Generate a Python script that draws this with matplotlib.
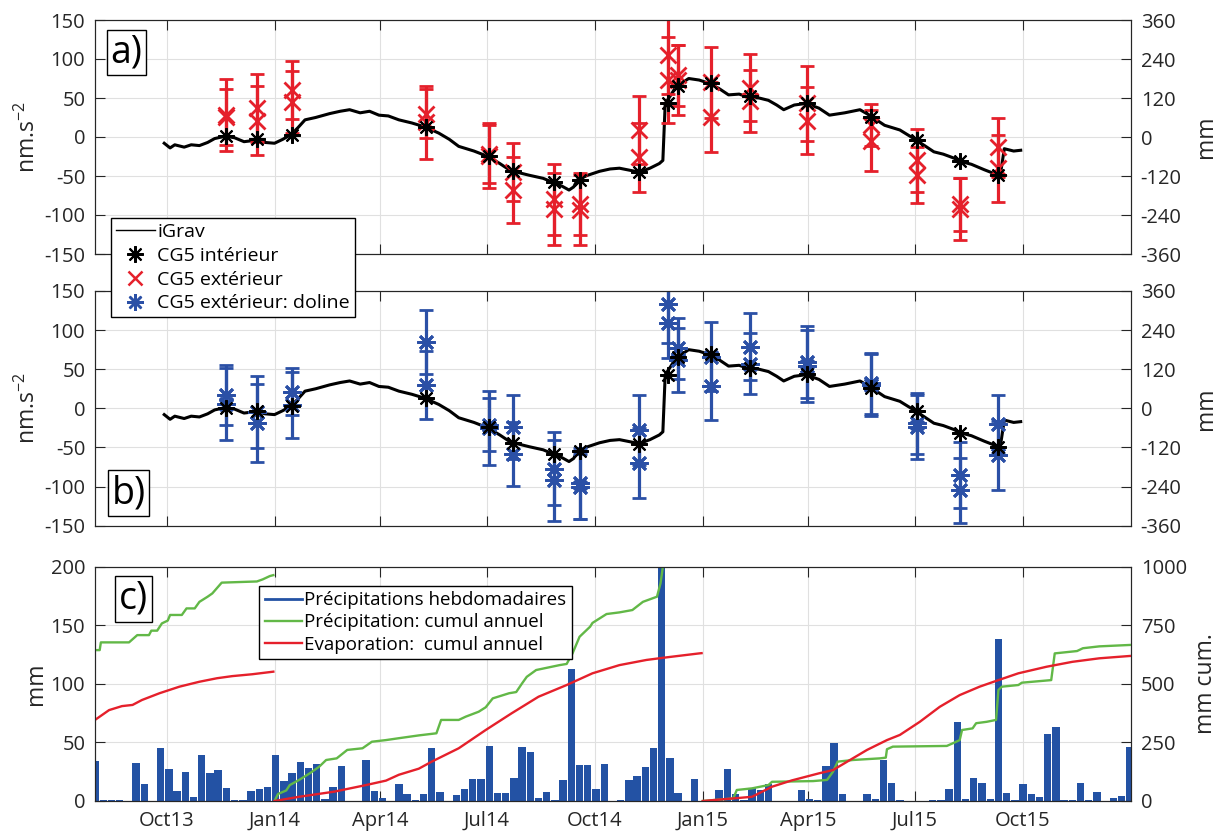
import matplotlib.pyplot as plt
import matplotlib.dates as mdates
from matplotlib.lines import Line2D
import pandas as pd

plt.rcParams['font.family'] = ['Open Sans', 'DejaVu Sans']
plt.rcParams['axes.unicode_minus'] = False
plt.rcParams['mathtext.default'] = 'regular'

RED = '#E5202B'
BLUE = '#2B50A6'
GREEN = '#62B847'
BAR = '#2352A4'
STAR = (8, 2, 0)

# --- iGrav continuous record (nm/s^2) ---
igrav_dates = ['2013-09-29', '2013-10-04', '2013-10-08', '2013-10-16', '2013-10-22', '2013-10-29',
               '2013-11-05', '2013-11-11', '2013-11-20', '2013-11-28', '2013-12-06', '2013-12-17',
               '2013-12-24', '2014-01-01', '2014-01-08', '2014-01-15', '2014-01-21', '2014-01-27',
               '2014-02-05', '2014-02-17', '2014-02-26', '2014-03-06', '2014-03-15', '2014-03-23',
               '2014-03-31', '2014-04-08', '2014-04-17', '2014-04-28', '2014-05-09', '2014-05-21',
               '2014-05-30', '2014-06-07', '2014-06-20', '2014-07-02', '2014-07-12', '2014-07-21',
               '2014-08-06', '2014-08-18', '2014-08-26', '2014-09-03', '2014-09-09', '2014-09-13',
               '2014-09-16', '2014-09-25', '2014-10-05', '2014-10-14', '2014-10-22', '2014-11-01',
               '2014-11-08', '2014-11-17', '2014-11-25', '2014-11-28', '2014-11-30', '2014-12-04',
               '2014-12-09', '2014-12-20', '2014-12-29', '2015-01-06', '2015-01-15', '2015-01-23',
               '2015-02-01', '2015-02-09', '2015-02-18', '2015-02-26', '2015-03-05', '2015-03-11',
               '2015-03-20', '2015-03-30', '2015-04-10', '2015-04-19', '2015-05-02', '2015-05-15',
               '2015-05-23', '2015-06-05', '2015-06-18', '2015-07-02', '2015-07-17', '2015-07-25',
               '2015-08-03', '2015-08-08', '2015-08-18', '2015-08-29', '2015-09-10', '2015-09-12',
               '2015-09-15', '2015-09-23', '2015-09-29']
igrav_vals = [-8, -14, -10, -13, -10, -11, -7, -2, 1, -1, -6, -4, -7, -8, -3, 3, 12, 22,
              25, 30, 33, 35, 31, 33, 28, 27, 22, 18, 13, 5, -3, -12, -18, -25, -34, -43,
              -49, -53, -58, -63, -68, -64, -55, -49, -44, -41, -40, -43, -45, -40, -34, -30,
              43, 52, 64, 75, 73, 69, 62, 54, 55, 51, 50, 47, 41, 35, 41, 43, 37, 28, 31, 35,
              28, 15, 9, -4, -19, -22, -27, -31, -35, -42, -49, -45, -15, -18, -17]

# --- CG5 surveys ---
survey_dates = ['2013-11-21', '2013-12-17', '2014-01-16', '2014-05-10', '2014-07-03', '2014-07-23',
                '2014-08-27', '2014-09-18', '2014-11-08', '2014-12-02', '2014-12-11', '2015-01-08',
                '2015-02-10', '2015-03-31', '2015-05-24', '2015-07-03', '2015-08-08', '2015-09-10']
cg5_int = [1, -3, 3, 13, -24, -44, -58, -55, -45, 43, 65, 69, 52, 44, 26, -4, -31, -49]

ext_val1 = [28, 37, 60, 19, -24, -45, -80, -94, 9, 105, 79, 70, 63, 43, 15, -30, -86, -13]
ext_err1 = [46, 44, 37, 47, 42, 37, 45, 45, 44, 50, 39, 46, 43, 48, 27, 40, 34, 38]
ext_val2 = [26, 21, 45, 30, -22, -68, -92, -86, -26, 73, 73, 26, 46, 21, -5, -49, -92, -40]
ext_err2 = [36, 44, 40, 31, 37, 42, 46, 40, 44, 55, 45, 45, 40, 43, 39, 36, 40, 43]

dol_val1 = [17, -5, 21, 85, -25, -24, -77, -100, -28, 134, 77, 66, 79, 59, 32, -19, -85, -20]
dol_err1 = [38, 46, 30, 41, 47, 41, 47, 42, 45, 50, 39, 44, 43, 46, 39, 39, 42, 37]
dol_val2 = [6, -19, 4, 30, -21, -58, -92, -96, -70, 109, 62, 28, 57, 54, 30, -24, -105, -60]
dol_err2 = [46, 50, 42, 43, 34, 41, 52, 45, 45, 45, 41, 43, 39, 46, 40, 41, 42, 44]

# --- weekly precipitation (mm), first week centred on 2013-08-01 ---
precip = [34, 0.5, 0.5, 0.5, 0, 32.7, 14.5, 0, 45.5, 27, 8.8, 25, 3.7, 39.3, 24.2, 26.5,
          10.8, 0.5, 0.5, 8.8, 10.2, 12.2, 39.3, 17.1, 23.6, 33.6, 27.9, 31.6, 1.5, 12.2,
          29.9, 0, 0, 35, 8.8, 2.5, 0, 14.2, 5.8, 1, 5.7, 45.5, 8, 0, 5.1, 10, 19, 18.5,
          46.9, 7.1, 7.1, 19.4, 46.4, 41.5, 2.8, 7.4, 1.1, 17.9, 112.4, 30.7, 30.4, 10,
          31.6, 0, 1, 17.9, 21.3, 29.3, 45.5, 210, 37, 7.1, 0, 19, 0, 0, 9.5, 27.6, 6.2,
          1, 10.8, 9.5, 14.2, 0, 0, 0, 9.5, 1.6, 1, 29.9, 49.8, 6.2, 0, 0, 6.2, 1.4, 35,
          15.7, 0.5, 0, 0, 0, 0.5, 1, 10, 67.1, 1.6, 19.4, 15.7, 1.6, 138.5, 7.1, 0.5,
          14.5, 5.7, 3.7, 57.2, 62.9, 1, 1, 15.1, 1, 8, 0, 2.8, 4.5, 46.4]

# --- annual cumulative precipitation and evaporation (mm) ---
pcum13_dates = ['2013-08-01', '2013-08-05', '2013-08-06', '2013-08-30', '2013-09-06', '2013-09-16',
                '2013-09-18', '2013-09-23', '2013-09-27', '2013-10-02', '2013-10-04', '2013-10-14',
                '2013-10-18', '2013-10-25', '2013-10-29', '2013-11-05', '2013-11-09', '2013-11-17',
                '2013-12-17', '2013-12-22', '2013-12-28', '2013-12-31']
pcum13 = [644, 644, 677, 677, 708, 708, 727, 727, 758, 770, 794, 794, 822, 822, 850, 872,
          886, 932, 937, 946, 960, 964]
pcum14_dates = ['2014-01-01', '2014-01-04', '2014-01-11', '2014-01-14', '2014-01-22', '2014-01-31',
                '2014-02-08', '2014-02-14', '2014-02-23', '2014-03-04', '2014-03-17', '2014-03-25',
                '2014-04-06', '2014-04-17', '2014-05-04', '2014-05-19', '2014-05-23', '2014-06-07',
                '2014-06-13', '2014-06-24', '2014-06-30', '2014-07-06', '2014-07-20', '2014-07-26',
                '2014-07-31', '2014-08-04', '2014-08-12', '2014-09-01', '2014-09-07', '2014-09-12',
                '2014-09-18', '2014-09-27', '2014-09-29', '2014-10-11', '2014-10-22', '2014-11-02',
                '2014-11-11', '2014-11-23', '2014-11-26', '2014-11-28', '2014-12-03', '2014-12-31']
pcum14 = [0, 30, 45, 68, 90, 118, 146, 175, 182, 218, 225, 253, 260, 268, 280, 289, 346,
          346, 360, 381, 400, 438, 460, 465, 502, 530, 559, 580, 585, 630, 701, 744, 760,
          798, 805, 815, 850, 872, 929, 1000, 1150, 1180]
pcum15_dates = ['2015-01-01', '2015-01-27', '2015-01-30', '2015-02-12', '2015-02-26', '2015-03-01',
                '2015-04-05', '2015-04-17', '2015-04-22', '2015-04-26', '2015-05-09', '2015-06-01',
                '2015-06-06', '2015-06-07', '2015-06-12', '2015-07-28', '2015-08-02', '2015-08-08',
                '2015-08-10', '2015-08-19', '2015-08-22', '2015-08-31', '2015-09-08', '2015-09-10',
                '2015-09-13', '2015-09-27', '2015-09-30', '2015-10-25', '2015-10-28', '2015-11-16',
                '2015-11-21', '2015-12-05', '2015-12-31']
pcum15 = [0, 11, 47, 54, 68, 82, 85, 90, 125, 168, 175, 182, 185, 221, 232, 235, 246, 260,
          303, 310, 332, 338, 346, 474, 488, 495, 505, 516, 630, 640, 652, 660, 666]

ecum13_dates = ['2013-08-01', '2013-08-05', '2013-08-13', '2013-08-24', '2013-09-02', '2013-09-10',
                '2013-09-25', '2013-10-12', '2013-10-29', '2013-11-13', '2013-11-26', '2013-12-13',
                '2013-12-31']
ecum13 = [346, 360, 388, 405, 410, 431, 460, 488, 509, 524, 533, 541, 552]
ecum14_dates = ['2014-01-01', '2014-01-22', '2014-02-21', '2014-03-20', '2014-04-06', '2014-04-17',
                '2014-05-04', '2014-05-15', '2014-06-07', '2014-06-30', '2014-07-22', '2014-08-14',
                '2014-09-07', '2014-09-29', '2014-10-22', '2014-11-14', '2014-12-01', '2014-12-29',
                '2014-12-31']
ecum14 = [0, 18, 40, 68, 87, 112, 138, 168, 225, 303, 374, 445, 495, 545, 580, 602, 613, 630, 631]
ecum15_dates = ['2015-01-01', '2015-01-27', '2015-02-12', '2015-03-01', '2015-03-18', '2015-04-10',
                '2015-04-22', '2015-05-21', '2015-06-07', '2015-06-18', '2015-07-05', '2015-07-22',
                '2015-08-08', '2015-08-25', '2015-09-10', '2015-09-27', '2015-10-21', '2015-11-12',
                '2015-12-05', '2015-12-31']
ecum15 = [0, 11, 18, 61, 88, 118, 132, 218, 260, 282, 338, 402, 452, 488, 516, 545, 573, 594,
          609, 619]

tick_dates = ['2013-10-01', '2014-01-01', '2014-04-01', '2014-07-01', '2014-10-01',
              '2015-01-01', '2015-04-01', '2015-07-01', '2015-10-01']

d = pd.to_datetime
xmin, xmax = d('2013-08-01'), d('2016-01-01')
sdates = d(survey_dates)
week_dates = pd.date_range('2013-08-01', periods=len(precip), freq='7D')

fig = plt.figure(figsize=(12.23, 8.33), dpi=100)


def frac(top, bottom):
    return [95 / 1223, 1 - bottom / 833, 1036 / 1223, (bottom - top) / 833]


ax_a = fig.add_axes(frac(20, 254))
ax_b = fig.add_axes(frac(291, 525.7))
ax_c = fig.add_axes(frac(566.7, 801))

TXT = '#262626'
TICK_FS = 14.5
LAB_FS = 16.5


def style(ax):
    ax.set_xlim(xmin, xmax)
    ax.set_xticks(d(tick_dates))
    ax.xaxis.set_major_formatter(mdates.DateFormatter('%b%y'))
    ax.grid(True, color='#E0E0E0', lw=0.8)
    ax.set_axisbelow(True)
    ax.tick_params(direction='in', top=True, length=7, width=0.8, labelsize=TICK_FS,
                   colors=TXT, pad=7)
    for s in ax.spines.values():
        s.set_color(TXT)
        s.set_linewidth(0.8)


def right_axis(ax, lim, ticks, label, xlab):
    ax2 = ax.twinx()
    ax2.set_ylim(*lim)
    ax2.set_yticks(ticks)
    ax2.tick_params(direction='in', length=7, width=0.8, labelsize=TICK_FS, colors=TXT, pad=7)
    for s in ax2.spines.values():
        s.set_color(TXT)
        s.set_linewidth(0.8)
    ax2.set_ylabel(label, fontsize=LAB_FS, color=TXT)
    ax2.yaxis.set_label_coords(xlab, 0.5)
    return ax2


def panel_label(ax, s, x, y):
    ax.text(x, y, s, transform=ax.transAxes, fontsize=27, ha='center', va='center',
            color='black', zorder=10,
            bbox=dict(boxstyle='square,pad=0.1', fc='white', ec='black', lw=1))


for ax, vals1, err1, vals2, err2, col, mk, ms in [
        (ax_a, ext_val1, ext_err1, ext_val2, ext_err2, RED, 'x', 11),
        (ax_b, dol_val1, dol_err1, dol_val2, dol_err2, BLUE, STAR, 13)]:
    style(ax)
    ax.plot(d(igrav_dates), igrav_vals, color='black', lw=2.2, zorder=2)
    for v, e in [(vals1, err1), (vals2, err2)]:
        ax.errorbar(sdates, v, yerr=e, ls='none', marker=mk, color=col, ms=ms, mew=2,
                    elinewidth=2.3, capsize=5, capthick=2, zorder=3)
    ax.plot(sdates, cg5_int, ls='none', marker=STAR, color='black', ms=12, mew=1.5, zorder=4)
    ax.set_ylim(-150, 150)
    ax.set_yticks(range(-150, 151, 50))
    ax.tick_params(labelbottom=False)
    ax.set_ylabel('nm.s$^{-2}$', fontsize=LAB_FS, color=TXT)
    ax.yaxis.set_label_coords(-0.052, 0.5)
    right_axis(ax, (-360, 360), range(-360, 361, 120), 'mm', 1.061)

panel_label(ax_a, 'a)', 0.0304, 0.861)
panel_label(ax_b, 'b)', 0.0323, 0.139)

# --- panel c ---
style(ax_c)
ax_c.bar(week_dates, precip, width=6.3, color=BAR, zorder=2)
ax_c.set_ylim(0, 200)
ax_c.set_yticks(range(0, 201, 50))
ax_c.set_ylabel('mm', fontsize=LAB_FS, color=TXT)
ax_c.yaxis.set_label_coords(-0.045, 0.5)
ax_c2 = right_axis(ax_c, (0, 1000), range(0, 1001, 250), 'mm cum.', 1.061)
for dates, vals in [(pcum13_dates, pcum13), (pcum14_dates, pcum14), (pcum15_dates, pcum15)]:
    ax_c2.plot(d(dates), vals, color=GREEN, lw=1.7)
for dates, vals in [(ecum13_dates, ecum13), (ecum14_dates, ecum14), (ecum15_dates, ecum15)]:
    ax_c2.plot(d(dates), vals, color=RED, lw=1.7)
ax_c2.set_xlim(xmin, xmax)
panel_label(ax_c2, 'c)', 0.0373, 0.863)

ax_c2.legend([Line2D([], [], color=BAR, lw=2), Line2D([], [], color=GREEN, lw=1.7),
              Line2D([], [], color=RED, lw=1.7)],
             ['Précipitations hebdomadaires', 'Précipitation: cumul annuel',
              'Evaporation:  cumul annuel'],
             loc='upper left', bbox_to_anchor=(0.1583, 0.919), borderaxespad=0,
             fontsize=13.5, fancybox=False, framealpha=1, edgecolor='black',
             handlelength=2.0, handletextpad=0.12, labelspacing=0.22, borderpad=0.3)

# --- shared legend for panels a/b ---
leg = fig.legend([Line2D([], [], color='black', lw=1),
                  Line2D([], [], ls='none', marker=STAR, color='black', ms=12, mew=1.5),
                  Line2D([], [], ls='none', marker='x', color=RED, ms=10, mew=1.8),
                  Line2D([], [], ls='none', marker=STAR, color=BLUE, ms=12, mew=1.8)],
                 ['iGrav', 'CG5 intérieur', 'CG5 extérieur', 'CG5 extérieur: doline'],
                 loc='upper left', bbox_to_anchor=(111 / 1223, 1 - 218 / 833), borderaxespad=0,
                 fontsize=14, fancybox=False, framealpha=1, edgecolor='black',
                 handlelength=2.0, handletextpad=0.12, labelspacing=0.3, borderpad=0.25)
leg.get_frame().set_linewidth(1)

fig.savefig('out.png', dpi=100)
